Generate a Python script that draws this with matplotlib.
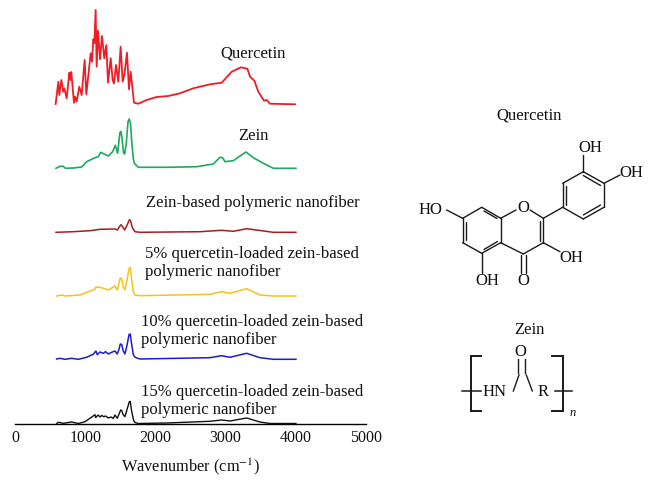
import matplotlib
matplotlib.use("Agg")
import matplotlib.pyplot as plt

W, H = 654, 484
plt.rcParams["font.family"] = ["Liberation Serif", "DejaVu Serif"]
plt.rcParams["mathtext.fontset"] = "stix"

# spectra: wavenumber (cm-1) / stacked intensity (a.u., offset included)
quercetin_x = [579, 617, 631, 660, 688, 703, 736, 774, 788, 802, 840, 855, 878, 916, 950, 992, 1016, 1078, 1097,
               1116, 1130, 1149, 1163, 1182, 1211, 1239, 1272, 1301, 1325, 1363, 1391, 1410, 1439, 1472, 1505, 1534,
               1562, 1595, 1624, 1648, 1695, 1757, 1875, 2018, 2184, 2350, 2540, 2778, 2945, 3088, 3219, 3310, 3348,
               3410, 3466, 3547, 3585, 3632, 3989]
quercetin_y = [319.5, 341.8, 328.5, 343.5, 331.8, 335.2, 325.2, 350.8, 343.5, 351.5, 320.8, 326.8, 321.8, 336.8,
               328.5, 363.5, 329.2, 370.2, 361.8, 384.2, 380.2, 413.5, 356.8, 392.8, 364.2, 387.5, 365.2, 378.5,
               340.8, 365.2, 343.5, 340.2, 358.5, 341.8, 376.8, 341.8, 350.8, 370.8, 334.2, 351.8, 320.8, 319.8,
               323.5, 326.5, 327.5, 330.2, 335.2, 339.2, 340.8, 351.8, 356.2, 354.8, 346.8, 342.8, 331.8, 322.8,
               323.5, 319.8, 319.2]

zein_x = [584, 641, 688, 717, 831, 950, 1021, 1139, 1187, 1220, 1329, 1391, 1429, 1462, 1480, 1495, 1510, 1525, 1545,
          1562, 1585, 1610, 1628, 1645, 1665, 1685, 1700, 1757, 2160, 2588, 2825, 2872, 2920, 2958, 2991, 3110, 3205,
          3290, 3395, 3537, 3680, 4002]
zein_y = [255.2, 257.2, 257.2, 255.2, 255.5, 256.5, 261.8, 265.8, 266.8, 271.2, 267.5, 271.8, 278.2, 270.2, 282,
          291, 292, 285, 271, 269.5, 280, 302, 304.5, 300, 280, 265, 260.2, 256.2, 256.2, 256.8, 259.5, 262.8, 266.2,
          265.8, 261.8, 262.8, 267.5, 271.5, 265.8, 260.2, 255.2, 255.2]

fiber_x = [584, 831, 1068, 1211, 1424, 1458, 1490, 1510, 1530, 1562, 1600, 1630, 1645, 1670, 1709, 1780, 2635, 2944,
           3110, 3300, 3680, 4002]
fiber_y = [191.2, 191.8, 192.8, 194.2, 194.5, 193.5, 197, 198.8, 197, 193.5, 199, 203.8, 203, 196, 191.8, 191.2,
           191.8, 193.2, 192.2, 194.8, 191.2, 191.2]

q5_x = [593, 664, 712, 926, 1044, 1139, 1150, 1234, 1329, 1424, 1457, 1480, 1500, 1520, 1540, 1566, 1595, 1625, 1642,
        1660, 1685, 1709, 1780, 2777, 2943, 3062, 3300, 3490, 3680, 4002]
q5_y = [127.5, 128.5, 127.5, 128.5, 131.8, 134.2, 136.5, 135.8, 133.5, 137.5, 133.5, 140, 145.5, 145, 137, 133.5,
        143, 155, 156, 145, 132, 128.5, 127.8, 129.2, 131.8, 130.2, 134.8, 128.5, 127.5, 127.5]

q10_x = [593, 641, 712, 807, 902, 1020, 1115, 1153, 1172, 1210, 1258, 1290, 1329, 1370, 1424, 1457, 1480, 1500, 1520,
         1540, 1566, 1595, 1625, 1642, 1660, 1685, 1709, 1780, 2777, 2943, 3062, 3300, 3490, 3680, 4002]
q10_y = [64.5, 65.2, 64.2, 65.2, 64.2, 66.2, 69.2, 72.5, 68.8, 71.5, 70.2, 71.8, 69.5, 71, 72.5, 69.5, 74, 79.5, 79,
         73, 69.5, 78, 89, 89.5, 80, 69, 66.2, 64.5, 65.8, 67.8, 66.2, 70.2, 65.8, 64.2, 64.2]

q15_x = [593, 617, 688, 807, 902, 997, 1068, 1139, 1150, 1163, 1185, 1210, 1235, 1265, 1290, 1329, 1370, 1400, 1424,
         1457, 1485, 1505, 1520, 1540, 1566, 1600, 1630, 1642, 1660, 1690, 1709, 1757, 2160, 2777, 2943, 3062, 3300,
         3490, 3632, 4002]
q15_y = [0, 1.2, 0.2, 1.5, 0, 1.8, 5.2, 8.8, 6, 7, 8.5, 6.5, 8, 6.8, 7.5, 5.5, 6.5, 5, 8.5, 5.2, 10, 13.5, 13, 9, 6.8,
         15, 22, 22, 13, 3, 1, 0, 0.5, 2.2, 3.5, 2.5, 5.5, 1.5, 0, 0]

x_ticks = [0, 1000, 2000, 3000, 4000, 5000]

fig = plt.figure(figsize=(W / 100, H / 100), dpi=100, facecolor="white")

# main spectra axes, 0-5000 runs from px 15 to px 366
ax = fig.add_axes([15 / W, 1 - 423.5 / H, 351 / W, 423.5 / H])
ax.plot(quercetin_x, quercetin_y, color="#ee1c25", lw=1.3)
ax.plot(zein_x, zein_y, color="#1fa85f", lw=1.2)
ax.plot(fiber_x, fiber_y, color="#a81c24", lw=1.1)
ax.plot(q5_x, q5_y, color="#f5c21b", lw=1.1)
ax.plot(q10_x, q10_y, color="#1c1ccc", lw=1.1)
ax.plot(q15_x, q15_y, color="#111111", lw=1.0, clip_on=False)
ax.set_xlim(0, 5000)
ax.set_ylim(0, 423.5)
ax.set_xticks(x_ticks)
ax.set_yticks([])
ax.tick_params(axis="x", length=0, pad=5, labelsize=11.5, colors="#111111")
ax.set_xlabel("Wavenumber (cm$^{-1}$)", fontsize=11.8, labelpad=7, color="#111111")
for side in ["top", "left", "right"]:
    ax.spines[side].set_visible(False)
ax.spines["bottom"].set_linewidth(1.0)
ax.patch.set_alpha(0)

# overlay in pixel coords for labels and the two structures
ov = fig.add_axes([0, 0, 1, 1])
ov.set_xlim(0, W)
ov.set_ylim(H, 0)
ov.axis("off")
ov.patch.set_alpha(0)

labels = [
    (253, 53.5, "Quercetin", "center"),
    (253, 136, "Zein", "center"),
    (146, 203, "Zein-based polymeric nanofiber", "left"),
    (145, 254, "5% quercetin-loaded zein-based", "left"),
    (145, 272, "polymeric nanofiber", "left"),
    (141, 322.5, "10% quercetin-loaded zein-based", "left"),
    (141, 340.5, "polymeric nanofiber", "left"),
    (141, 392.5, "15% quercetin-loaded zein-based", "left"),
    (141, 410.5, "polymeric nanofiber", "left"),
    (529, 116, "Quercetin", "center"),
    (529, 330, "Zein", "center"),
]
for lx, ly, txt, ha in labels:
    ov.text(lx, ly, txt, ha=ha, va="center", fontsize=12, color="#111111")

# quercetin skeleton
bonds = [
    ((462.7, 218.3), (481.7, 207.3)), ((481.7, 207.3), (500.7, 218.3)), ((500.7, 218.3), (500.7, 242.7)),
    ((500.7, 242.7), (481.7, 253.3)), ((481.7, 253.3), (462.7, 242.7)), ((462.7, 242.7), (462.7, 218.3)),
    ((500.7, 218.3), (516, 210)), ((530, 210), (543.3, 218.3)), ((543.3, 218.3), (543.3, 242.7)),
    ((543.3, 242.7), (523.3, 254)), ((523.3, 254), (500.7, 242.7)), ((543.3, 218.3), (562.7, 207.3)),
    ((562.7, 207.3), (562.7, 183.3)), ((562.7, 183.3), (583.3, 171.7)), ((583.3, 171.7), (604, 183.3)),
    ((604, 183.3), (604, 207.3)), ((604, 207.3), (583.3, 219)), ((583.3, 219), (562.7, 207.3)),
    ((583.3, 171.7), (583.3, 155)), ((604, 183.3), (620, 175)), ((481.7, 253.3), (481.7, 273)),
    ((462.7, 218.3), (446.7, 210)), ((543.3, 242.7), (560, 251.7)),
    # inner lines of the double bonds
    ((484, 211), (497, 218.5)), ((466.3, 222), (466.3, 240)), ((484, 249.5), (497.5, 241.5)),
    ((539.7, 221), (539.7, 240.5)), ((566.3, 186), (566.3, 204.5)), ((583.3, 175.5), (600.5, 185.5)),
    ((583.3, 215), (600.5, 205)),
    ((521.3, 255), (521.3, 272.5)), ((525.5, 255), (525.5, 272.5)),
]
for (x0, y0), (x1, y1) in bonds:
    ov.plot([x0, x1], [y0, y1], color="#1a1a1a", lw=1.0, solid_capstyle="round")

atoms = [
    (523.3, 208.5, "O"), (523.3, 281, "O"), (487, 281, "OH"), (430, 209.5, "HO"),
    (571.7, 257.5, "OH"), (590.3, 148.5, "OH"), (631.7, 173, "OH"),
]
for a_x, a_y, txt in atoms:
    ov.text(a_x, a_y, txt, ha="center", va="center", fontsize=12, color="#111111")

# zein repeat unit
zein_lines = [
    ((518.3, 359.3), (518.3, 373.3)), ((524.7, 359.3), (524.7, 373.3)),
    ((519, 375), (513.3, 391)), ((526.3, 375), (532.3, 391)),
]
for (x0, y0), (x1, y1) in zein_lines:
    ov.plot([x0, x1], [y0, y1], color="#1a1a1a", lw=1.0)
ov.plot([480.7, 470.7, 470.7, 480.7], [356, 356, 411, 411], color="#1a1a1a", lw=1.4, solid_joinstyle="miter")
ov.plot([551.7, 562.7, 562.7, 551.7], [356, 356, 411, 411], color="#1a1a1a", lw=1.4, solid_joinstyle="miter")
ov.plot([462.3, 480.7], [391, 391], color="#1a1a1a", lw=1.1)
ov.plot([555, 571.7], [391, 391], color="#1a1a1a", lw=1.1)
ov.text(495, 392, "HN", ha="center", va="center", fontsize=12, color="#111111")
ov.text(520.7, 351.5, "O", ha="center", va="center", fontsize=12, color="#111111")
ov.text(543.3, 392, "R", ha="center", va="center", fontsize=12, color="#111111")
ov.text(572.3, 413, "n", ha="center", va="center", fontsize=9, style="italic", color="#111111")

fig.savefig("out.png", dpi=100, facecolor="white")
plt.close(fig)
